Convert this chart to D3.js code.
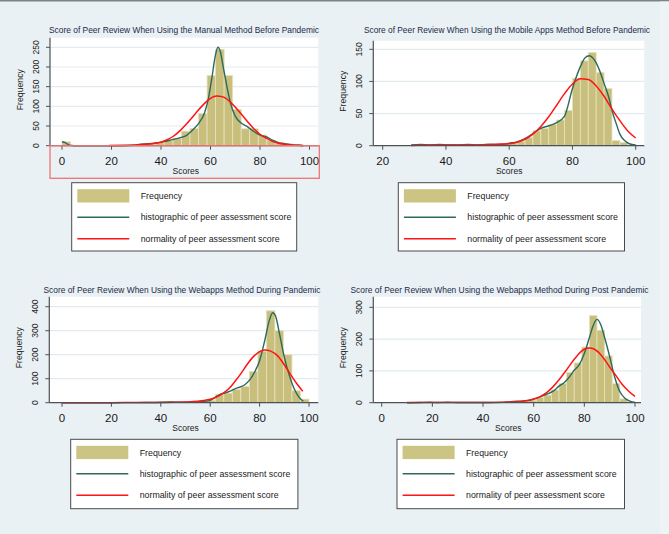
<!DOCTYPE html>
<html>
<head>
<meta charset="utf-8">
<script src="https://cdn.jsdelivr.net/npm/d3@7"></script>
<style>
  body { margin: 0; background: #e9f1f4; }
  svg { display: block; font-family: "Liberation Sans", Arial, sans-serif; }
</style>
</head>
<body>
<div id="chart"></div>
<script>
(function() {
  var titles, xTicks, yTicks, binStart, binWidth, counts1, counts2, counts3, counts4,
    green1, green2, green3, green4, red1, red2, red3, red4, legendLabels,
    panels, svg, W, H, drawPanel;

  // ---- data ----
  titles = [
    "Score of Peer Review When Using the Manual Method Before Pandemic",
    "Score of Peer Review When Using the Mobile Apps Method Before Pandemic",
    "Score of Peer Review When Using the Webapps Method During Pandemic",
    "Score of Peer Review When Using the Webapps Method During Post Pandemic"
  ];
  xTicks = [[0, 20, 40, 60, 80, 100], [20, 40, 60, 80, 100], [0, 20, 40, 60, 80, 100], [0, 20, 40, 60, 80, 100]];
  yTicks = [[0, 50, 100, 150, 200, 250], [0, 50, 100, 150], [0, 100, 200, 300, 400], [0, 100, 200, 300]];
  binStart = [0, 30, 0, 10];
  binWidth = [3.448, 2.5, 3.448, 3];

  counts1 = [10, 0, 0, 0, 0, 1, 1, 0, 2, 5, 4, 8, 13, 19, 37, 44, 82, 178, 245, 178, 92, 43, 43, 27, 14, 9, 5, 3, 1];
  counts2 = [2, 1, 2, 2, 1, 1, 2, 1, 1, 3, 2, 3, 5, 7, 13, 23, 27, 33, 40, 55, 105, 132, 145, 114, 89, 8, 5, 1];
  counts3 = [1, 0, 0, 0, 0, 0, 1, 0, 1, 1, 1, 2, 4, 3, 2, 4, 5, 10, 35, 40, 55, 68, 130, 215, 383, 300, 200, 50, 15];
  counts4 = [0, 0, 1, 1, 0, 1, 0, 0, 0, 0, 1, 0, 1, 2, 5, 4, 8, 16, 24, 40, 60, 95, 125, 175, 274, 228, 147, 60, 12, 3];

  green1 = [[0, 10], [1.5, 7], [3, 1], [5, 0], [15, 0], [25, 0], [29, 1], [32, 4], [35, 5], [38, 7], [40, 9],
    [42.5, 12], [45, 16], [47.5, 20], [50, 25], [52.5, 38], [55, 55], [57.5, 82], [59, 115], [60.5, 170],
    [62, 230], [63, 250], [64, 238], [65, 205], [66.5, 155], [68, 110], [70, 75], [72.5, 57], [75, 48],
    [77.5, 36], [80, 27], [82.5, 23], [85, 14], [87.5, 8], [90, 5], [93, 2], [96, 1], [97.5, 0]];
  red1 = [[19, 0.3], [25, 1], [30, 2], [35, 4.5], [40, 9], [42.5, 15], [45, 24], [47.5, 37], [50, 53],
    [52.5, 71], [55, 90], [57.5, 107], [60, 120], [62.5, 126], [65, 124], [67.5, 114], [70, 98], [72.5, 80],
    [75, 61], [77.5, 43], [80, 29], [82.5, 19], [85, 11], [87.5, 6], [90, 3.5], [92.5, 2], [95, 1], [97.5, 0.5]];

  green2 = [[29, 1], [32, 2], [35, 1], [38, 2], [41, 1], [44, 1], [47, 2], [50, 1], [53, 2], [56, 2], [58, 2],
    [60, 4], [62.5, 6], [65, 11], [67.5, 19], [70, 27], [72.5, 31], [75, 36], [77.5, 46], [80, 89],
    [82.5, 123], [84, 137], [85.3, 140], [87, 133], [88.5, 118], [90, 97], [91.5, 75], [92.5, 55],
    [94, 32], [95, 18], [96.5, 8], [98, 3], [100, 1]];
  red2 = [[29, 0.5], [35, 1], [40, 1], [45, 1], [50, 1.2], [55, 2], [57.5, 2.5], [60, 3], [62.5, 5.5],
    [65, 10], [67.5, 18], [70, 30], [72.5, 45], [75, 63], [77.5, 81], [80, 96], [82.5, 104], [85, 103],
    [87.5, 93], [90, 77], [92.5, 57], [95, 39], [97.5, 23], [100, 12]];

  green3 = [[0, 0], [10, 0], [20, 0], [30, 0.5], [38, 1], [41, 2], [44, 3], [47, 2], [50, 2], [53, 3],
    [56, 4], [58, 6], [60, 10], [62, 22], [64, 35], [66, 40], [68, 48], [70, 58], [72, 65], [74, 75],
    [76, 95], [78, 128], [80, 175], [82, 255], [84, 345], [85.3, 375], [86.5, 360], [88, 290], [90, 190],
    [92, 115], [94, 58], [96, 22], [97.7, 6]];
  red3 = [[0, 0.3], [10, 0.3], [20, 0.3], [30, 0.4], [40, 0.8], [45, 1.5], [50, 3], [55, 6], [57.5, 9],
    [60, 14], [62.5, 23], [65, 38], [67.5, 58], [70, 88], [72.5, 122], [75, 160], [77.5, 192], [80, 213],
    [82, 220], [84.5, 215], [87.5, 193], [90, 158], [92.5, 118], [95, 80], [97.5, 48]];

  green4 = [[10, 0], [15, 0.5], [19, 1.5], [22, 0.5], [26, 1.5], [30, 0.5], [35, 0.5], [40, 0.5], [45, 1],
    [48, 1], [50, 2], [52, 4], [55, 5], [58, 7], [60, 12], [62, 17], [64, 23], [66, 29], [68, 38], [70, 52],
    [72, 63], [74, 80], [76, 102], [78, 120], [80, 155], [82, 205], [83.5, 243], [85, 262], [86.5, 245],
    [88, 205], [90, 145], [92, 80], [94, 35], [96, 14], [98, 5], [100, 1]];
  red4 = [[10, 0.3], [20, 0.5], [30, 0.5], [40, 0.7], [45, 1], [50, 2], [55, 4], [57.5, 7], [60, 11],
    [62.5, 19], [65, 31], [67.5, 49], [70, 72], [72.5, 98], [75, 126], [77.5, 151], [80, 168], [82, 172],
    [84, 168], [86.5, 151], [88.5, 130], [90, 112], [92.5, 85], [95, 57], [97.5, 36], [100, 20]];

  legendLabels = ["Frequency", "histographic of peer assessment score", "normality of peer assessment score"];

  // ---- layout (pixels) ----
  W = 669;
  H = 534;
  panels = [
    { box: [50, 37.7, 318.3, 145.7], xr: [62, 309.5], yr: [145.7, 47.3], tx: 184, ty: 29.3, tw: 270, lg: [71.7, 182.7, 225, 68.3],
      counts: counts1, green: green1, red: red1 },
    { box: [373.3, 40.7, 644.3, 145.7], xr: [382.7, 635.7], yr: [145.7, 49.3], tx: 507, ty: 29.3, tw: 286, lg: [398.3, 182.7, 226.2, 68.3],
      counts: counts2, green: green2, red: red2 },
    { box: [49.3, 296.7, 318.3, 402.7], xr: [62, 309], yr: [402.7, 306.7], tx: 182, ty: 289.3, tw: 277, lg: [70.7, 439.3, 227.2, 69.4],
      counts: counts3, green: green3, red: red3 },
    { box: [373.3, 296.7, 641, 402.7], xr: [381.7, 635], yr: [402.7, 307.3], tx: 499.5, ty: 289.3, tw: 298, lg: [397, 439.3, 227.5, 69.4],
      counts: counts4, green: green4, red: red4 }
  ];

  svg = d3.select("#chart").append("svg").attr("width", W).attr("height", H);
  svg.append("rect").attr("x", 0).attr("y", 0).attr("width", W).attr("height", H).style("fill", "#e9f1f4");
  svg.append("rect").attr("x", 0).attr("y", 0).attr("width", W).attr("height", 1.5).style("fill", "#7d8488");
  svg.append("rect").attr("x", 660).attr("y", 1.5).attr("width", 9).attr("height", H).style("fill", "#eef4f6");

  drawPanel = function(p, i) {
    var x, y, g, bars, line, b, xt, yt, lg, rows;
    b = p.box;
    xt = xTicks[i];
    yt = yTicks[i];
    x = d3.scaleLinear().domain([xt[0], xt[xt.length - 1]]).range(p.xr);
    y = d3.scaleLinear().domain([0, yt[yt.length - 1]]).range(p.yr);
    g = svg.append("g");

    // plot region + grid
    g.append("rect").attr("x", b[0]).attr("y", b[1]).attr("width", b[2] - b[0]).attr("height", b[3] - b[1]).style("fill", "#ffffff");
    g.selectAll("line.grid").data(yt.slice(1)).enter().append("line")
      .attr("x1", b[0]).attr("x2", b[2]).attr("y1", function(d) { return y(d); }).attr("y2", function(d) { return y(d); })
      .style("stroke", "#e2ebef").style("stroke-width", 1.2);

    // histogram bars
    bars = p.counts.map(function(c, k) {
      return { x0: binStart[i] + k * binWidth[i], x1: binStart[i] + (k + 1) * binWidth[i], c: c };
    });
    g.selectAll("rect.bar").data(bars).enter().append("rect")
      .attr("x", function(d) { return x(d.x0); })
      .attr("width", function(d) { return x(d.x1) - x(d.x0); })
      .attr("y", function(d) { return y(d.c); })
      .attr("height", function(d) { return y(0) - y(d.c); })
      .style("fill", "#c9bf7c").style("stroke", "#e6e1c2").style("stroke-width", 0.8);

    line = d3.line().x(function(d) { return x(d[0]); }).y(function(d) { return y(d[1]); }).curve(d3.curveMonotoneX);
    g.append("path").datum(p.green).attr("d", line).style("fill", "none").style("stroke", "#2b6a5c").style("stroke-width", 1.4);
    g.append("path").datum(p.red).attr("d", line).style("fill", "none").style("stroke", "#ff1414").style("stroke-width", 1.5);

    // axes
    g.append("line").attr("x1", b[0]).attr("x2", b[0]).attr("y1", b[1]).attr("y2", b[3]).style("stroke", "#4d5256").style("stroke-width", 1.2);
    g.append("line").attr("x1", b[0]).attr("x2", b[2]).attr("y1", b[3]).attr("y2", b[3]).style("stroke", "#4d5256").style("stroke-width", 1.2);
    g.selectAll("line.yt").data(yt).enter().append("line")
      .attr("x1", b[0] - 4).attr("x2", b[0]).attr("y1", function(d) { return y(d); }).attr("y2", function(d) { return y(d); })
      .style("stroke", "#4d5256");
    g.selectAll("text.yt").data(yt).enter().append("text")
      .attr("transform", function(d) { return "translate(" + (b[0] - 11) + "," + y(d) + ") rotate(-90)"; })
      .attr("text-anchor", "middle").style("font-size", "8.5px").style("fill", "#222").text(function(d) { return d; });
    g.selectAll("line.xt").data(xt).enter().append("line")
      .attr("x1", function(d) { return x(d); }).attr("x2", function(d) { return x(d); }).attr("y1", b[3]).attr("y2", b[3] + 4)
      .style("stroke", "#4d5256");
    g.selectAll("text.xt").data(xt).enter().append("text")
      .attr("x", function(d) { return x(d); }).attr("y", b[3] + 19)
      .attr("text-anchor", "middle").style("font-size", "11.5px").style("fill", "#1a1a1a").text(function(d) { return d; });

    g.append("text").attr("x", (p.xr[0] + p.xr[1]) / 2).attr("y", b[3] + 28)
      .attr("text-anchor", "middle").style("font-size", "8.5px").style("fill", "#222").text("Scores");
    g.append("text").attr("transform", "translate(" + (b[0] - 27) + "," + ((b[1] + b[3]) / 2 - 2) + ") rotate(-90)")
      .attr("text-anchor", "middle").style("font-size", "8.7px").style("fill", "#222").text("Frequency");
    g.append("text").attr("x", p.tx).attr("y", p.ty + 3.2).attr("text-anchor", "middle")
      .attr("textLength", p.tw).attr("lengthAdjust", "spacingAndGlyphs")
      .style("font-size", "8.6px").style("fill", "#1e2a48").text(titles[i]);

    // legend
    lg = p.lg;
    g.append("rect").attr("x", lg[0]).attr("y", lg[1]).attr("width", lg[2]).attr("height", lg[3])
      .style("fill", "#ffffff").style("stroke", "#4a4a4a").style("stroke-width", 1);
    rows = [13.2, 34.5, 56];
    g.append("rect").attr("x", lg[0] + 5.6).attr("y", lg[1] + 6.5).attr("width", 52).attr("height", 13.3).style("fill", "#ccc482");
    g.append("line").attr("x1", lg[0] + 5.6).attr("x2", lg[0] + 57.6).attr("y1", lg[1] + rows[1]).attr("y2", lg[1] + rows[1])
      .style("stroke", "#2b6a5c").style("stroke-width", 1.6);
    g.append("line").attr("x1", lg[0] + 5.6).attr("x2", lg[0] + 57.6).attr("y1", lg[1] + rows[2]).attr("y2", lg[1] + rows[2])
      .style("stroke", "#ff1414").style("stroke-width", 1.6);
    g.selectAll("text.lg").data(legendLabels).enter().append("text")
      .attr("x", lg[0] + 69).attr("y", function(d, k) { return lg[1] + rows[k] + 3; })
      .style("font-size", "8.8px").style("fill", "#222").text(function(d) { return d; });
  };

  panels.forEach(drawPanel);

  // red highlight frame around the first x axis
  svg.append("rect").attr("x", 50).attr("y", 145.7).attr("width", 269.3).attr("height", 32.6)
    .style("fill", "none").style("stroke", "#ee7373").style("stroke-width", 1.3);
}).call(this);
</script>
</body>
</html>
